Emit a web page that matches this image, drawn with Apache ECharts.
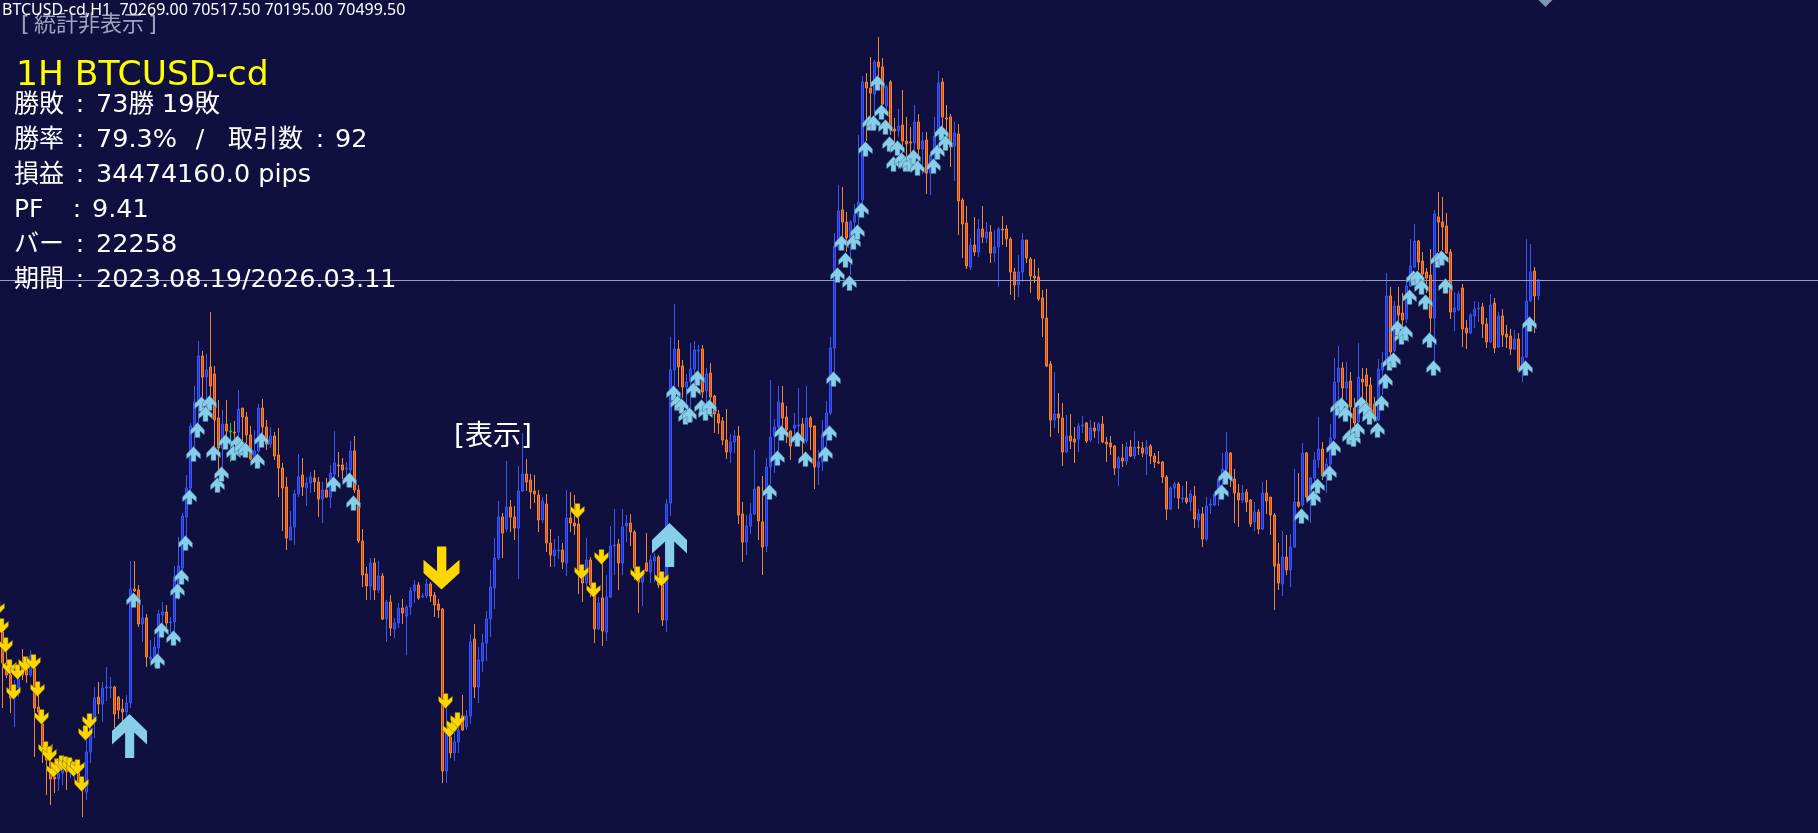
<!DOCTYPE html>
<html>
<head>
<meta charset="utf-8">
<title>BTCUSD-cd H1</title>
<script src="https://cdn.jsdelivr.net/npm/echarts@6/dist/echarts.min.js"></script>
<style>
  html, body { margin: 0; padding: 0; background: #0f1040; overflow: hidden; }
  /* oldest bar sits partly off the left edge, so the canvas starts left of the page */
  #chart { position: absolute; left: -4px; top: 0; width: 1830px; height: 833px; }
</style>
</head>
<body>
<div id="chart"></div>
<script>
// hourly bars, oldest first: [open, close, low, high]
const candles = [
[65325,65100,65025,65400],[65220,64755,64080,65370],[64755,64575,64530,64980],[64575,64230,64005,64680],[64230,64380,63795,64500],
[64380,64515,64245,64650],[64725,64575,64500,64965],[64695,64575,64455,64800],[64575,64860,64545,64950],[64680,64080,63345,64800],
[64095,64020,63945,64275],[63840,63510,63255,64005],[63510,63300,62775,63555],[63270,63015,62625,63405],[63045,63015,62805,63180],
[63015,63105,62835,63225],[63105,63150,62925,63300],[63150,63120,62850,63330],[63120,63180,63030,63300],[63075,63150,63000,63270],
[63105,62970,62925,63270],[63000,62850,62445,63045],[62820,63420,62700,63600],[63420,63780,63255,63945],[63930,64230,63630,64395],
[64245,64140,63990,64470],[64140,64380,63870,64470],[64380,64395,64185,64695],[64380,64395,64230,64545],[64395,63990,63780,64410],
[64245,64050,63915,64260],[64065,64020,63870,64215],[64020,64155,63945,64275],[64155,65865,64080,66285],[65865,65835,65820,66285],
[65850,65340,65295,65925],[65340,65430,65070,65625],[65430,64845,64695,65490],[64815,64845,64800,65100],[64845,64995,64695,65145],
[64980,65490,64800,65550],[65475,65520,65355,65670],[65520,65355,65280,65625],[65355,65370,65205,65445],[65370,66045,65220,66210],
[65880,66210,65700,66645],[66180,66960,66030,67005],[66945,67380,66645,67575],[67380,68310,67320,68355],[68310,68670,67905,68910],
[68670,69360,68295,69585],[69360,69045,68745,69435],[69045,69150,68700,69390],[69195,68910,68700,70020],[69090,68400,67980,69210],
[68430,67980,67620,68700],[67980,68340,67695,68550],[68340,68235,68100,68700],[68235,68220,67770,68355],[68220,68205,68055,68385],
[68220,68565,68160,68850],[68580,68445,68070,68580],[68445,68175,68055,68520],[68175,67815,67800,68310],[67815,67935,67755,68250],
[67935,68580,67905,68640],[68580,68295,68055,68715],[68295,68040,67950,68400],[68040,68160,67980,68295],[68160,67860,67800,68220],
[67875,67680,67245,68280],[67680,67380,66735,67755],[67395,66630,66450,67545],[66600,66795,66600,67035],[66795,67290,66525,67350],
[67290,67545,67245,67890],[67575,67395,67260,67830],[67380,67455,67110,67545],[67455,67545,67305,67620],[67530,67470,67320,67650],
[67470,67215,66945,67545],[67215,67350,66855,67470],[67350,67245,67230,67530],[67245,67605,67080,67725],[67590,67755,67545,68235],
[67725,67710,67545,67920],[67725,67650,67515,67830],[67665,67680,67395,67770],[67650,67935,67395,68085],[67935,67350,67305,68160],
[67350,66585,66555,67425],[66585,66075,65895,66765],[66090,65910,65700,66195],[65910,66255,65700,66330],[66255,65850,65700,66330],
[65850,66060,65805,66285],[66060,65415,65400,66105],[65415,65670,65070,65700],[65670,65280,65160,65775],[65265,65355,65130,65430],
[65355,65580,65280,65655],[65580,65505,65340,65715],[65460,65595,64875,65625],[65595,65835,65475,65895],[65835,65925,65655,66000],
[65925,65730,65700,65970],[65745,65760,65730,65805],[65760,65940,65730,66015],[65940,65760,65670,65970],[65775,65625,65445,65820],
[65640,65550,65430,65715],[65565,63135,62955,65580],[63135,63705,62955,64095],[63645,63405,63330,63795],[63405,63570,63285,63705],
[63570,63750,63405,63870],[63960,63750,63735,64275],[63795,63960,63750,64050],[63960,65070,63840,65190],[65115,64395,64230,65340],
[64395,64800,64155,64995],[64785,65055,64620,65190],[65055,65415,64785,65535],[65415,65895,65145,66150],[65880,66330,65565,66630],
[66330,66945,66300,67185],[66945,66705,66330,67005],[66765,67095,66720,67785],[67095,66945,66720,67200],[66945,66780,66600,67110],
[66780,67335,66015,67710],[67335,67590,67320,68205],[67590,67470,67335,67815],[67500,67320,67065,67590],[67335,67290,67155,67575],
[67275,66900,66720,67350],[66900,67185,66855,67245],[67140,66555,66420,67290],[66555,66375,66195,66765],[66360,66450,66195,66615],
[66435,66450,66315,66660],[66450,66270,66165,66555],[66255,66930,66060,67350],[66930,66855,66720,67320],[66855,66810,66675,67275],
[66840,66150,65790,67005],[66045,65955,65670,66195],[65955,66300,65925,66630],[66300,65925,65745,66345],[65775,65265,65055,65895],
[65265,65655,65250,65745],[65730,65235,65010,66375],[65220,65745,65085,66075],[65745,66510,65730,66810],[66510,66525,66075,67065],
[66540,66255,65850,66615],[66255,66795,66075,67065],[66810,66855,66570,66975],[66855,66720,66510,66990],[66720,66180,66000,66750],
[66030,65970,65505,66180],[65970,66105,65610,66150],[66255,66135,66120,66705],[66120,66300,65955,66375],[66285,66345,65970,66405],
[66345,65925,65880,66375],[65925,65400,65310,66075],[65400,67140,65220,67215],[67155,69150,66960,69645],[69150,69465,68895,70140],
[69465,69195,68895,69600],[69210,68895,68730,69300],[68895,68970,68505,69090],[68970,69165,68580,69555],[69165,69450,68730,69585],
[69435,69450,69000,69525],[69465,68820,68730,69525],[68835,69090,68595,69180],[69105,68745,68595,69255],[68760,68490,68205,68775],
[68490,68355,68190,68550],[68385,68100,68025,68445],[68100,67920,67815,68565],[67920,68070,67755,68190],[68070,68160,67905,68250],
[68160,66975,66840,68310],[66990,66570,66270,67170],[66570,66810,66375,66975],[66810,66990,66690,67155],[66990,67365,66975,67950],
[67395,66885,66600,67410],[66870,66495,66075,67560],[66510,67695,66420,67830],[67695,68145,67440,69000],[68160,68295,67605,68415],
[68295,68670,67935,68910],[68655,68430,68250,68910],[68445,68250,68055,68610],[68235,68010,67800,68250],[68280,68325,68055,68505],
[68310,68325,68115,68880],[68340,68085,67875,68430],[68085,68430,68055,68910],[68430,68295,67950,68460],[68310,67695,67365,68325],
[67695,67770,67425,67950],[67770,68190,67635,68400],[68190,68505,67995,68685],[68505,69480,68475,69645],[69480,71010,69120,71205],
[70995,71535,70950,71925],[71550,71370,71100,71895],[71370,71130,70920,71520],[71130,71370,70575,71400],[71370,71475,71145,71640],
[71475,71670,71325,72675],[71700,73470,71655,73560],[73470,73380,72585,73605],[73380,73305,72900,73845],[73290,73770,72975,73800],
[73770,73695,73425,74145],[73695,73140,73125,73830],[73110,73395,73050,73425],[73470,72750,72675,73500],[72765,72735,72570,72930],
[72735,72810,72645,73065],[72825,72585,72405,73350],[72585,72540,72345,72945],[72570,72555,72255,72795],[72555,72870,72450,73125],
[72870,72465,72255,72990],[72465,72585,72090,72720],[72600,72105,71790,72720],[72105,72375,71775,72420],[72375,72660,72105,72945],
[72675,73455,72645,73635],[73470,72945,72720,73530],[72930,72915,72645,73125],[72945,72495,72195,72990],[72510,72705,71985,72870],
[72690,71685,71175,72840],[71700,71340,70830,71730],[71355,70710,70665,71610],[70695,71025,70650,71130],[71025,70920,70860,71445],
[70920,71265,70845,71415],[71265,71145,71055,71610],[71130,71220,71055,71370],[71220,70905,70755,71325],[70905,70995,70770,71250],
[70995,71265,70395,71295],[71265,71250,71025,71460],[71265,71115,70995,71325],[71115,70620,70275,71145],[70620,70425,70200,70680],
[70425,70620,70245,70875],[70620,71100,70470,71205],[71100,70830,70755,71100],[70815,70560,70305,70845],[70560,70530,70455,70815],
[70545,70215,70185,70680],[70230,69930,69645,70350],[69930,69210,69195,70365],[69240,68400,68145,69285],[68400,68490,68280,69120],
[68490,68430,68205,68805],[68430,67920,67710,68655],[67920,68160,67905,68475],[68160,68085,67965,68490],[68115,68070,67755,68295],
[68115,68310,67920,68355],[68310,68325,68205,68460],[68355,68085,68055,68370],[68100,68280,68070,68400],[68280,68235,68130,68370],
[68235,68340,68040,68370],[68340,68070,68055,68460],[68070,68040,67770,68145],[68055,67995,67875,68160],[68010,67680,67575,68025],
[67680,67830,67410,67860],[67830,67785,67695,68040],[67785,67995,67725,68070],[67995,67860,67845,68100],[67860,67995,67815,68235],
[67995,67980,67875,68085],[67980,67905,67845,68070],[67890,67995,67575,68100],[68010,67860,67740,68040],[67860,67770,67680,67905],
[67770,67755,67740,67935],[67770,67545,67455,67785],[67545,67065,66900,67575],[67065,67380,67050,67410],[67380,67440,67230,67470],
[67440,67230,67065,67470],[67215,67230,67155,67410],[67230,67170,67140,67485],[67170,67290,67035,67350],[67260,66915,66780,67410],
[66900,66990,66780,67065],[66990,66615,66495,67095],[66615,67110,66585,67245],[67125,67140,66990,67215],[67125,67290,67110,67305],
[67290,67515,67110,67545],[67515,67665,67395,67905],[67665,67920,67605,68220],[67905,67515,67395,67920],[67515,67305,66855,67665],
[67305,67200,66795,67440],[67200,67305,67155,67425],[67320,67170,67020,67365],[67200,66840,66795,67215],[66870,67020,66735,67170],
[67020,66765,66690,67065],[66765,67305,66750,67470],[67305,67185,66990,67500],[67245,66975,66675,67245],[66975,66210,65550,67005],
[66240,65955,65850,66555],[65940,66345,65760,66735],[66345,66150,66075,66675],[66150,66495,65895,66690],[66495,67170,66480,67665],
[67170,67110,67080,67605],[67125,67905,67095,68055],[67905,67245,67200,67920],[67245,67530,66855,67545],[67530,67800,67470,67920],
[67800,67965,67680,68445],[67965,67560,67500,68070],[67545,67740,67305,67830],[67740,68130,67695,68340],[68130,68970,68100,69330],
[68970,69180,68670,69510],[69180,68880,68700,69270],[68880,68970,68700,69270],[68985,68595,68250,69120],[68580,68355,68145,68730],
[68370,69045,68355,69555],[69015,68970,68700,69180],[69075,68910,68550,69180],[68925,68505,68430,69045],[68640,68400,68370,68745],
[68400,69165,68385,69315],[69150,69255,68775,69420],[69255,70260,69255,70605],[70260,69420,69255,70395],[69435,70110,69420,70185],
[70110,69975,69780,70395],[70005,69900,69780,70305],[69915,70410,69855,70545],[70410,70710,70395,71115],[70695,71085,70680,71340],
[71085,70770,70650,71100],[70785,70590,70500,70920],[70620,70530,70305,70680],[70575,69930,69705,70965],[69930,71490,69270,71550],
[71445,71370,70920,71820],[71370,71295,70950,71745],[71310,70905,70890,71505],[70920,70020,69915,70965],[70020,70080,69735,70320],
[70050,70290,70035,70335],[70380,69765,69495,70440],[69780,69705,69465,69900],[69705,69975,69690,70005],[69960,70065,69780,70185],
[70065,70080,69870,70170],[70095,69840,69630,70155],[69840,69570,69480,69930],[69570,70125,69555,70290],[70155,69480,69405,70230],
[69495,69960,69480,70020],[69960,69675,69495,70065],[69690,69645,69480,69825],[69660,69465,69375,69765],[69465,69615,69450,69750],
[69615,69150,69135,69705],[69165,69345,68970,69795],[69345,70185,69330,71115],[70185,70620,70170,71040],[70635,70260,69705,70695],
[70269,70499.5,70195,70517.5]
]
const dojiBars = [58] // drawn green on the terminal

// signal arrows: [bar, price]
const buySignals = [
[34,65700],[45,65835],[46,66045],[41,65250],[40,64785],[44,65130],[47,66555],[48,67245],[49,67890],[50,68250],[51,68640],[53,68655],
[52,68490],[54,67905],[55,67425],[56,67590],[57,68070],[59,67905],[60,68055],[61,67980],[62,67950],[65,67785],[66,68100],[84,67440],
[88,67500],[89,67155],[169,68805],[170,68655],[171,68610],[172,68445],[173,68475],[174,68850],[175,69030],[176,68595],[177,68505],
[178,68595],[193,67320],[195,67830],[196,68205],[200,68115],[202,67815],[207,67890],[208,68205],[209,69015],[210,70575],[213,70455],
[212,70800],[211,71055],[214,71070],[215,71220],[216,71550],[217,72465],[218,72855],[219,72855],[220,73455],[221,73020],[222,72795],
[223,72540],[225,72480],[224,72240],[226,72300],[227,72240],[228,72240],[229,72345],[230,72180],[234,72210],[235,72420],[236,72705],
[237,72555],[306,67320],[307,67545],[326,66960],[329,67230],[330,67410],[333,67605],[334,67980],[338,68145],[339,68115],[340,68250],
[345,68250],[335,68580],[336,68625],[337,68490],[341,68640],[342,68550],[343,68445],[346,68655],[347,68985],[348,69255],[349,69300],
[351,69645],[350,69780],[352,69705],[353,70245],[354,70530],[355,70530],[356,70395],[357,70170],[358,69600],[359,69180],[360,70800],
[361,70830],[362,70410],[382,69180],[383,69840]
]
const sellSignals = [
[0,65580],[1,65310],[2,65025],[3,64695],[4,64320],[5,64620],[7,64740],[9,64770],[10,64365],[11,63945],[12,63465],[13,63390],[14,63150],
[15,63210],[16,63255],[17,63240],[18,63225],[19,63165],[20,63195],[21,62940],[22,63705],[23,63885],[112,64185],[113,63750],[114,63825],
[115,63900],[145,67035],[146,66120],[149,65850],[151,66345],[160,66090],[166,66015]
]
const bigBuyArrows = [[33,63660],[168,66525]]
const bigSellArrows = [[111,66180]]
const topMarker = [[387,74700]]

const bidPrice = 70499.5
const priceMin = 62205
const priceMax = 74700
const barSlots = Array.from({ length: 456 }, (_, i) => i)

const headerText = 'BTCUSD-cd,H1  70269.00 70517.50 70195.00 70499.50'
const hideText = '[\u2009統計非表示\u2009]'
const titleText = '1H BTCUSD-cd'
const statLabels = ['勝敗', '勝率', '損益', 'PF', 'バー', '期間']
const statValues = ['73勝 19敗', '79.3%', '34474160.0 pips', '9.41', '22258', '2023.08.19/2026.03.11']
const tradesLabel = '取引数'
const tradesValue = '92'
const showText = '[表示]'

const SMALL_UP = 'path://M50 0L100 50L100 82L68 58L68 100L32 100L32 58L0 82L0 50Z'
const SMALL_DOWN = 'path://M50 100L0 50L0 18L32 42L32 0L68 0L68 42L100 18L100 50Z'
const BIG_UP = 'path://M52 0L104 50L104 90L66 55L66 130L39 130L39 55L0 90L0 50Z'
const BIG_DOWN = 'path://M52 130L0 80L0 40L39 75L39 0L66 0L66 75L104 40L104 80Z'
const FONT = '"DejaVu Sans", "Noto Sans CJK JP", sans-serif'
const CANVAS_SHIFT = 4 // see #chart in the css

function arrowSeries(data, symbol, size, color, border) {
  return {
    type: 'scatter',
    data,
    symbol,
    symbolSize: size,
    symbolOffset: [-1, 0],
    silent: true,
    z: 5,
    itemStyle: { color, opacity: 1, borderColor: border, borderWidth: border ? 0.5 : 0 }
  }
}

function label(text, x, y, size, fill, family, align) {
  return {
    type: 'text',
    x: x + CANVAS_SHIFT,
    y,
    silent: true,
    z: 20,
    style: {
      text,
      fill,
      font: `${size}px ${family || FONT}`,
      textVerticalAlign: 'middle',
      textAlign: align || 'left'
    }
  }
}

function statRow(i) {
  const y = 105 + i * 35
  const isPf = statLabels[i] === 'PF'
  return [
    label(statLabels[i], 14, y, 25, '#ffffff'),
    label(':', isPf ? 77 : 80, y, 25, '#ffffff', FONT, 'center'),
    label(statValues[i], isPf ? 92 : 96, y, 25.5, '#ffffff')
  ]
}

const chart = echarts.init(document.getElementById('chart'))
chart.setOption({
  animation: false,
  backgroundColor: '#0f1040',
  grid: { left: 0.5, top: 0, width: 1824, height: 833 },
  xAxis: { type: 'category', data: barSlots, show: false, boundaryGap: true },
  yAxis: { type: 'value', min: priceMin, max: priceMax, show: false, splitLine: { show: false } },
  series: [
    {
      type: 'candlestick',
      barWidth: 2,
      large: false,
      progressive: 0,
      silent: true,
      z: 2,
      data: candles.map((c, i) => dojiBars.includes(i)
        ? { value: c, itemStyle: { color: '#20c840', color0: '#20c840', borderColor: '#20c840', borderColor0: '#20c840' } }
        : c),
      itemStyle: {
        color: '#2430e8',
        color0: '#e8481c',
        borderColor: '#3a58f0',
        borderColor0: '#f08a30',
        borderWidth: 1
      },
      markLine: {
        silent: true,
        symbol: 'none',
        animation: false,
        label: { show: false },
        lineStyle: { color: '#9a9ec4', width: 1, type: 'solid' },
        data: [{ yAxis: bidPrice }]
      }
    },
    arrowSeries(buySignals, SMALL_UP, [14, 15], '#87ceeb', '#3f6a86'),
    arrowSeries(sellSignals, SMALL_DOWN, [14, 15], '#ffd700', '#6a5a10'),
    arrowSeries(bigBuyArrows, BIG_UP, [35, 44], '#87ceeb'),
    arrowSeries(bigSellArrows, BIG_DOWN, [36, 43], '#ffd700'),
    arrowSeries(topMarker, 'diamond', [14, 14], '#7f93b2')
  ],
  graphic: [
    label(hideText, 21, 25, 22, '#a0a3bd'),
    label(headerText, 2, 10, 16, '#ffffff', '"Noto Sans", sans-serif'),
    label(titleText, 16, 76, 34.5, '#ffff00'),
    ...statLabels.flatMap((_, i) => statRow(i)),
    label('/', 200, 140, 25, '#ffffff', FONT, 'center'),
    label(tradesLabel, 228, 140, 25, '#ffffff'),
    label(':', 320, 140, 25, '#ffffff', FONT, 'center'),
    label(tradesValue, 335, 140, 25.5, '#ffffff'),
    label(showText, 454, 438, 28, '#ffffff')
  ]
})
</script>
</body>
</html>
